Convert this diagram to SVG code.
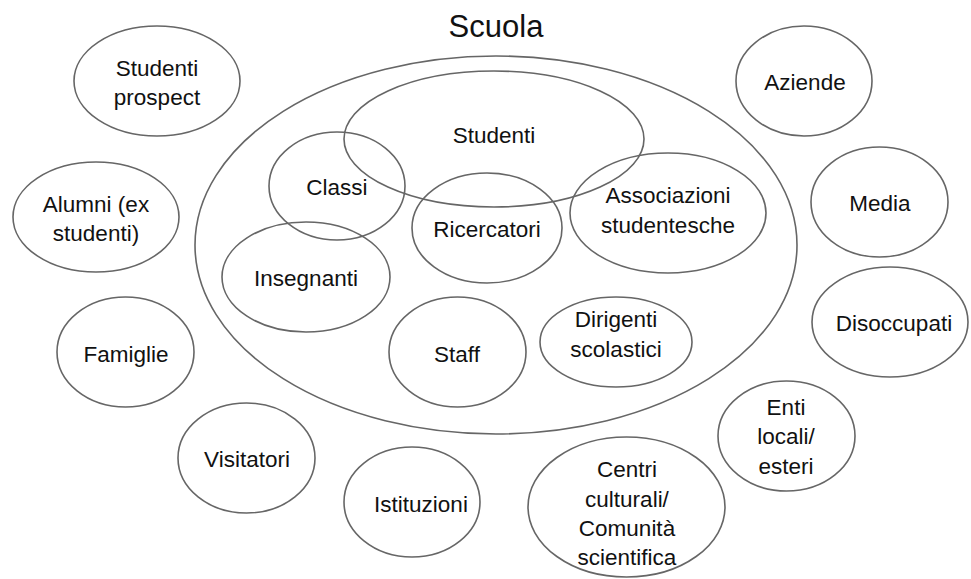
<svg xmlns="http://www.w3.org/2000/svg" width="971" height="579" viewBox="0 0 971 579">
<style>
ellipse{fill:none;stroke:#666;stroke-width:1.6}
text{font-family:"Liberation Sans",Arial,sans-serif;font-size:22.5px;fill:#111;text-anchor:middle}
.t{font-size:31px}
</style>
<rect width="971" height="579" fill="#fff"/>
<g id="scuola"><ellipse cx="496" cy="245" rx="301" ry="189"/><text class="t" x="496" y="37">Scuola</text></g>
<g id="studenti"><ellipse cx="494" cy="139" rx="150" ry="68"/><text x="494" y="143">Studenti</text></g>
<g id="classi"><ellipse cx="337" cy="186" rx="68" ry="54"/><text x="337" y="195">Classi</text></g>
<g id="ricercatori"><ellipse cx="487" cy="228" rx="75" ry="55"/><text x="487" y="237">Ricercatori</text></g>
<g id="associazioni"><ellipse cx="668" cy="213" rx="98" ry="60"/><text x="668" y="203">Associazioni</text><text x="668" y="233">studentesche</text></g>
<g id="insegnanti"><ellipse cx="306" cy="277" rx="84" ry="55"/><text x="306" y="286">Insegnanti</text></g>
<g id="staff"><ellipse cx="457.5" cy="352" rx="68.5" ry="55"/><text x="457" y="362">Staff</text></g>
<g id="dirigenti"><ellipse cx="616" cy="342" rx="76" ry="45"/><text x="616" y="327">Dirigenti</text><text x="616" y="357">scolastici</text></g>
<g id="prospect"><ellipse cx="157" cy="81" rx="83" ry="55"/><text x="157" y="76">Studenti</text><text x="157" y="105">prospect</text></g>
<g id="alumni"><ellipse cx="96" cy="217" rx="83" ry="55"/><text x="96" y="212">Alumni (ex</text><text x="96" y="241">studenti)</text></g>
<g id="famiglie"><ellipse cx="125.5" cy="352" rx="68.5" ry="55"/><text x="126" y="362">Famiglie</text></g>
<g id="visitatori"><ellipse cx="246.5" cy="458" rx="68.5" ry="55"/><text x="247" y="467">Visitatori</text></g>
<g id="istituzioni"><ellipse cx="412" cy="502" rx="68" ry="55"/><text x="421" y="512">Istituzioni</text></g>
<g id="centri"><ellipse cx="626.5" cy="507" rx="98.5" ry="70"/><text x="627" y="477">Centri</text><text x="627" y="507">culturali/</text><text x="627" y="536">Comunità</text><text x="627" y="565">scientifica</text></g>
<g id="enti"><ellipse cx="786.5" cy="436" rx="68.5" ry="55"/><text x="786" y="415">Enti</text><text x="786" y="444">locali/</text><text x="786" y="474">esteri</text></g>
<g id="disoccupati"><ellipse cx="890" cy="322" rx="78" ry="55"/><text x="894" y="331">Disoccupati</text></g>
<g id="aziende"><ellipse cx="804" cy="81" rx="68" ry="55"/><text x="805" y="90">Aziende</text></g>
<g id="media"><ellipse cx="879.5" cy="202" rx="68.5" ry="55"/><text x="880" y="211">Media</text></g>
<g id="connectors"/>
</svg>
